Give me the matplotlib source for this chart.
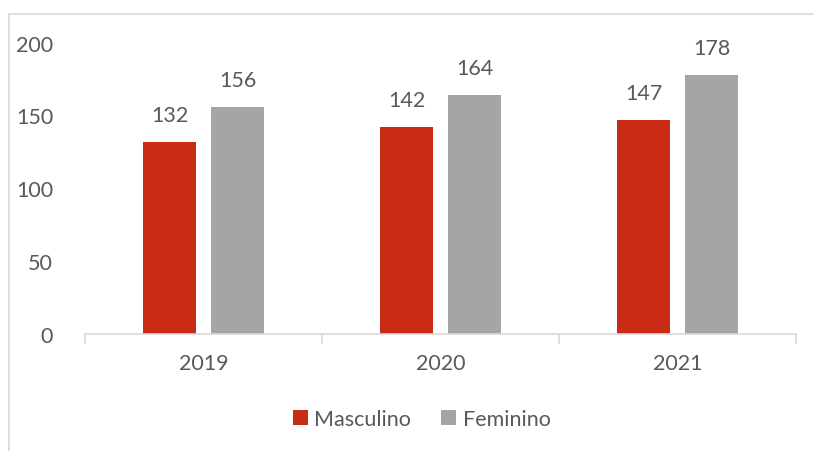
import matplotlib.pyplot as plt
import numpy as np
from matplotlib.patches import Rectangle

years = ['2019', '2020', '2021']
masculino = [132, 142, 147]
feminino = [156, 164, 178]

red = '#C82C17'
gray = '#A5A5A5'
txt = '#595959'
axc = '#D9D9D9'
fs = 15.5

plt.rcParams['font.family'] = ['Lato', 'DejaVu Sans']

W, H = 814, 452
fig = plt.figure(figsize=(W / 100, H / 100), dpi=100)
ax = fig.add_axes([85 / W, (H - 335) / H, (796 - 85) / W, (335 - 43.5) / H])

x = np.arange(len(years))
w = 0.224
off = 0.1435
b1 = ax.bar(x - off, masculino, w, color=red, label='Masculino')
b2 = ax.bar(x + off, feminino, w, color=gray, label='Feminino')

for bars in (b1, b2):
    for r in bars:
        ax.annotate(f'{int(r.get_height())}', (r.get_x() + r.get_width() / 2, r.get_height()),
                    xytext=(0, 12), textcoords='offset points', ha='center', va='bottom',
                    fontsize=fs, color=txt)

ax.set_xlim(-0.5, len(years) - 0.5)
ax.set_ylim(0, 200)
ax.set_yticks([0, 50, 100, 150, 200])
ax.set_xticks(x)
ax.set_xticklabels(years)
ax.set_xticks(np.arange(len(years) + 1) - 0.5, minor=True)
ax.tick_params(axis='x', which='major', length=0, pad=14, labelsize=fs, labelcolor=txt)
ax.tick_params(axis='x', which='minor', length=7, width=1.2, color=axc)
ax.tick_params(axis='y', length=0, pad=23, labelsize=fs, labelcolor=txt)
for s in ('top', 'right', 'left'):
    ax.spines[s].set_visible(False)
ax.spines['bottom'].set_color(axc)
ax.spines['bottom'].set_linewidth(1.2)

fig.legend(handles=[b1, b2], loc='center', bbox_to_anchor=(421.5 / W, (H - 420) / H),
           ncol=2, frameon=False, fontsize=fs, labelcolor=txt, handlelength=0.7,
           handleheight=0.7, handletextpad=0.3, columnspacing=1.4)

fig.patches.append(Rectangle((9 / W, -0.1), 1.1, (H - 15) / H + 0.1, transform=fig.transFigure,
                             fill=False, edgecolor=axc, linewidth=1.2))

fig.savefig('out.png', dpi=100)
